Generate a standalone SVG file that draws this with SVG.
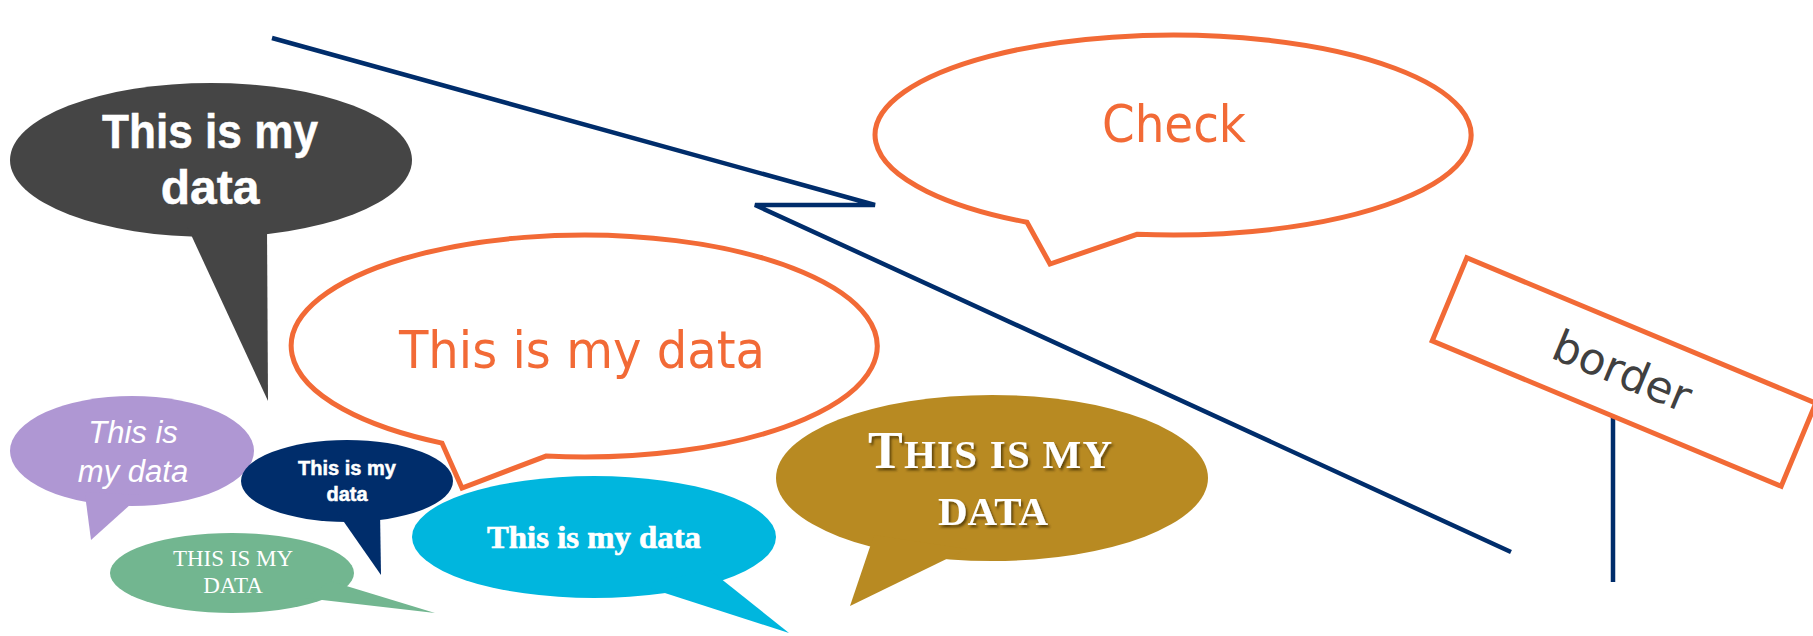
<svg xmlns="http://www.w3.org/2000/svg" width="1813" height="636" viewBox="0 0 1813 636">
<style>
.line{fill:none;stroke:#002D6B;stroke-width:4.5;stroke-linejoin:miter}
.outl{fill:#FFFFFF;stroke:#F26A36;stroke-width:5;stroke-linejoin:miter}
.sans{font-family:"DejaVu Sans Condensed","DejaVu Sans",sans-serif}
.fut{font-family:"Liberation Sans",Arial,sans-serif;font-weight:bold;fill:#FFFFFF;stroke:#FFFFFF;stroke-width:0.5}
.ser{font-family:"Liberation Serif","Times New Roman",serif;fill:#FFFFFF}
</style>
<defs>
<filter id="sh" x="-10%" y="-20%" width="120%" height="150%">
<feDropShadow dx="2" dy="2.5" stdDeviation="1.2" flood-color="#3A2A00" flood-opacity="0.7"/>
</filter>
</defs>
<rect width="1813" height="636" fill="#FFFFFF"/>
<g id="connectors">
<polyline class="line" points="272,38 875,205 755,205 1511,552"/>
<line class="line" x1="1613" y1="417" x2="1613" y2="582"/>
</g>
<g id="node-dark">
<ellipse cx="211" cy="160" rx="201" ry="77" fill="#454545"/>
<polygon points="187,226 268,401 267,226" fill="#454545"/>
<text class="fut" x="210" y="148" font-size="48" text-anchor="middle" textLength="216" lengthAdjust="spacingAndGlyphs">This is my</text>
<text class="fut" x="210" y="204" font-size="48" text-anchor="middle">data</text>
</g>
<g id="node-check">
<path class="outl" d="M 1027 222.2 A 298 100 0 1 1 1137 234.3 L 1050 264 Z"/>
<text class="sans" x="1174" y="142" font-size="52" fill="#F26A36" text-anchor="middle">Check</text>
</g>
<g id="node-orange">
<path class="outl" d="M 442 443.1 A 293 111 0 1 1 546 456.1 L 462 488 Z"/>
<text class="sans" x="582" y="368" font-size="52" fill="#F26A36" text-anchor="middle" textLength="366" lengthAdjust="spacingAndGlyphs">This is my data</text>
</g>
<g id="node-border">
<g transform="rotate(22.6 1624 372)">
<rect x="1435" y="327" width="378" height="90" fill="none" stroke="#F26A36" stroke-width="5"/>
<text x="1622" y="387" font-family="'DejaVu Sans',Verdana,sans-serif" font-size="44" fill="#404040" text-anchor="middle">border</text>
</g>
</g>
<g id="node-purple">
<ellipse cx="132" cy="451" rx="122" ry="55" fill="#AF97D3"/>
<polygon points="84.7,492 91,540 141,495" fill="#AF97D3"/>
<text x="133" y="443" font-family="'Liberation Sans',Arial,sans-serif" font-style="italic" font-size="31" fill="#FFFFFF" text-anchor="middle">This is</text>
<text x="133" y="482" font-family="'Liberation Sans',Arial,sans-serif" font-style="italic" font-size="31" fill="#FFFFFF" text-anchor="middle">my data</text>
</g>
<g id="node-navy">
<ellipse cx="347" cy="481" rx="106" ry="41" fill="#002D6B"/>
<polygon points="335.6,510 381,575 380,510" fill="#002D6B"/>
<text class="fut" x="347" y="475" font-size="20" text-anchor="middle" stroke-width="0.3">This is my</text>
<text class="fut" x="347" y="501" font-size="20" text-anchor="middle" stroke-width="0.3">data</text>
</g>
<g id="node-green">
<ellipse cx="232" cy="573" rx="122" ry="40" fill="#72B690"/>
<polygon points="330,581 435,613 305,598" fill="#72B690"/>
<text class="ser" x="233" y="566" font-size="23" text-anchor="middle">THIS IS MY</text>
<text class="ser" x="233" y="593" font-size="23" text-anchor="middle">DATA</text>
</g>
<g id="node-cyan">
<ellipse cx="594" cy="537" rx="182" ry="61" fill="#00B6DE"/>
<polygon points="710,570 789,633 640,585" fill="#00B6DE"/>
<text class="ser" x="594" y="548" font-size="31" font-weight="bold" stroke="#FFFFFF" stroke-width="0.6" text-anchor="middle" textLength="214" lengthAdjust="spacingAndGlyphs">This is my data</text>
</g>
<g id="node-gold">
<ellipse cx="992" cy="478" rx="216" ry="83" fill="#B88A22"/>
<polygon points="874,535 850,606 967,549" fill="#B88A22"/>
<g filter="url(#sh)">
<text class="ser" x="990" y="468" font-weight="bold" text-anchor="middle" textLength="244" lengthAdjust="spacing"><tspan font-size="52">T</tspan><tspan font-size="41">HIS IS MY</tspan></text>
<text class="ser" x="993" y="525" font-size="41" font-weight="bold" text-anchor="middle">DATA</text>
</g>
</g>
</svg>
